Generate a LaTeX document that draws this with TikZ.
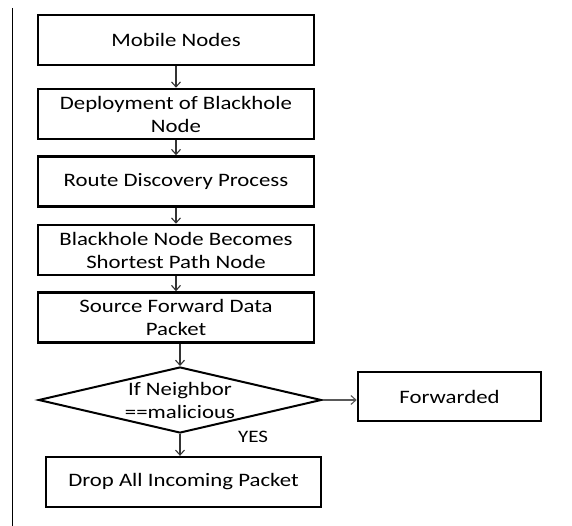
\documentclass[tikz,border=0pt]{standalone}
\usepackage{fontspec}
\setmainfont{Carlito}[FakeStretch=1.2]
\usepackage{tikz}
\usetikzlibrary{shapes.geometric,arrows.meta}

\tikzset{
  stepbox/.style={draw=black, line width=2.6pt, minimum width=276pt, minimum height=50pt,
    inner sep=0pt, align=center, font=\fontsize{19}{23}\selectfont},
  decision/.style={diamond, draw=black, line width=2pt, minimum width=283pt, minimum height=66pt,
    inner sep=0pt},
  flow/.style={->, line width=1.1pt, draw=black!80},
  >={Straight Barb[length=5pt,width=9pt]}
}

\begin{document}
\begin{tikzpicture}[x=1pt,y=-1pt]
% flowchart of the blackhole attack
\useasboundingbox (0,0) rectangle (572,526);
\draw[line width=1pt] (12,8) -- (12,526);

\node[stepbox] (mob) at (176,40) {Mobile Nodes};
\node[stepbox] (dep) at (176,114) {Deployment of Blackhole\\Node};
\node[stepbox] (rdp) at (176,181.5) {Route Discovery Process};
\node[stepbox] (spn) at (176,250) {Blackhole Node Becomes\\Shortest Path Node};
\node[stepbox] (sfd) at (176,317.5) {Source Forward Data\\Packet};

\node[decision, label={[align=center, font=\fontsize{19}{23}\selectfont]center:If Neighbor\\==malicious}] (nbr) at (180,400) {};

\node[stepbox, minimum width=183pt, minimum height=49pt] (fwd) at (449.5,396.5) {Forwarded};
\node[stepbox, line width=2.3pt, minimum width=275pt] (drop) at (183.5,482) {Drop All Incoming Packet};
\node[font=\fontsize{17.5}{21}\selectfont] (yes) at (253,437) {YES};

\draw[flow] (mob) -- (dep);
\draw[flow] (dep) -- (rdp);
\draw[flow] (rdp) -- (spn);
\draw[flow] (spn) -- (sfd);
\draw[flow] (nbr.north |- sfd.south) -- (nbr.north);
\draw[flow, draw=black!65] (nbr.east) -- (nbr.east -| fwd.west);
\draw[flow] (nbr.south) -- (nbr.south |- drop.north);
\end{tikzpicture}
\end{document}
